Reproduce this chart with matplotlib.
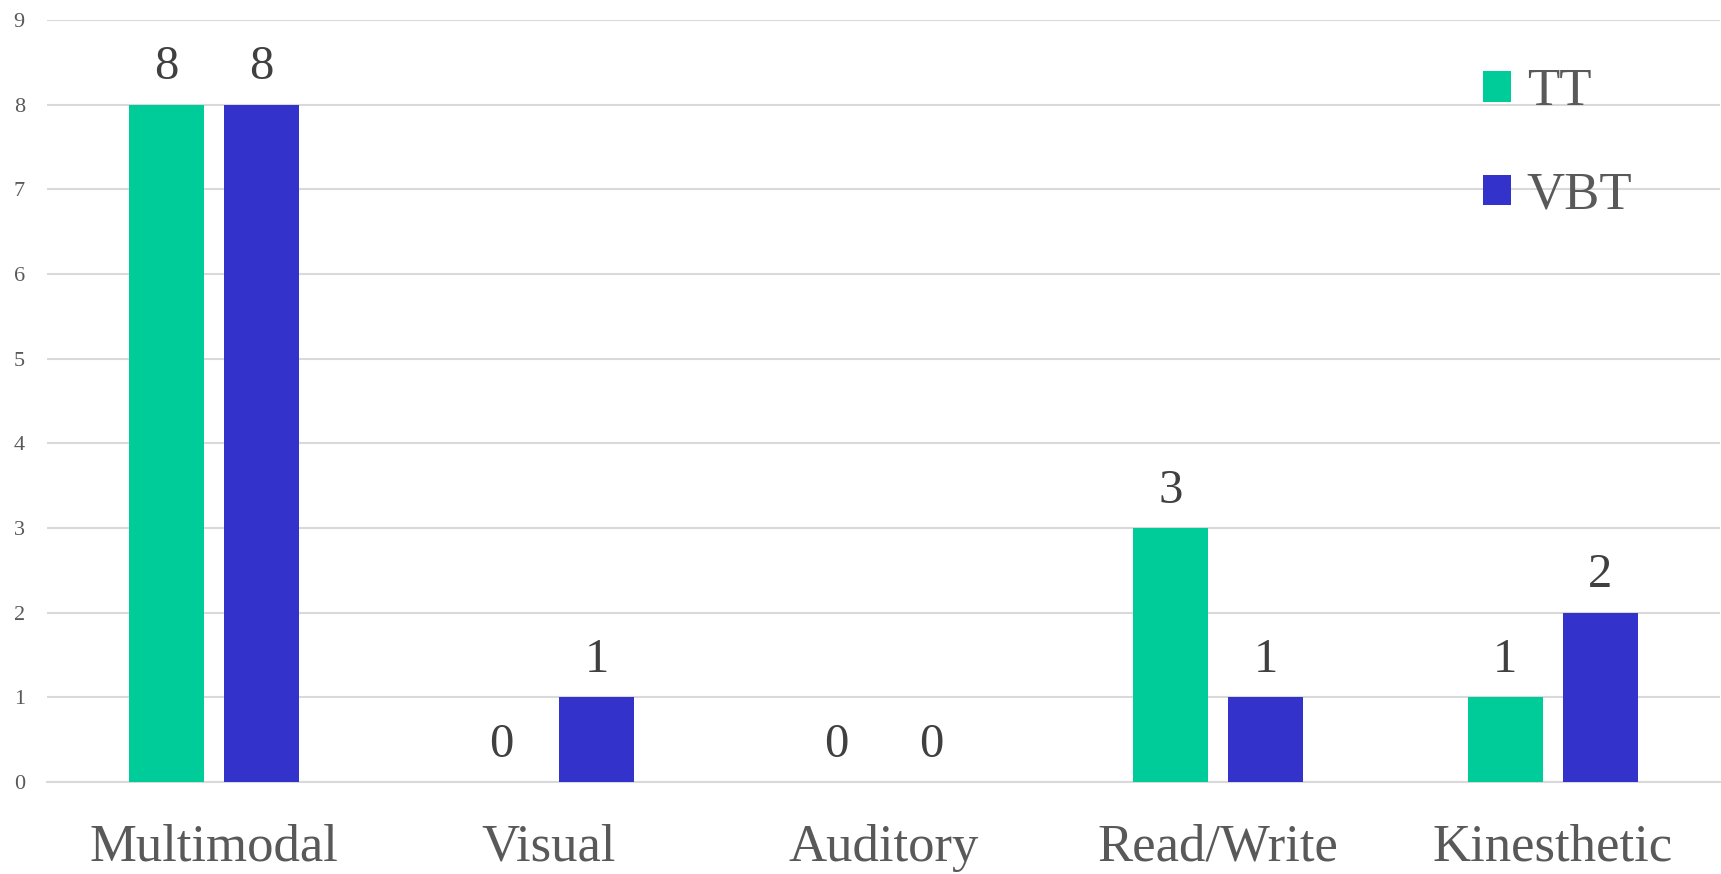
import numpy as np
import matplotlib.pyplot as plt

# learning style counts per group
categories = ["Multimodal", "Visual", "Auditory", "Read/Write", "Kinesthetic"]
tt_counts = [8, 0, 0, 3, 1]
vbt_counts = [8, 1, 0, 1, 2]

TT_COLOR = "#00CC99"
VBT_COLOR = "#3333CC"
TEXT_COLOR = "#595959"

plt.rcParams["font.family"] = ["Liberation Serif", "DejaVu Serif"]

fig = plt.figure(figsize=(17.21, 8.74), dpi=100)
ax = fig.add_axes([0.0273, 0.1053, 0.9721, 0.8717])

x = np.arange(len(categories))
width = 0.224
offset = 0.142

bars_tt = ax.bar(x - offset, tt_counts, width, color=TT_COLOR, label="TT", zorder=3)
bars_vbt = ax.bar(x + offset, vbt_counts, width, color=VBT_COLOR, label="VBT", zorder=3)

# value labels above each bar
for bars in (bars_tt, bars_vbt):
    for rect in bars:
        h = rect.get_height()
        ax.annotate(f"{h:g}", (rect.get_x() + rect.get_width() / 2, h),
                    xytext=(0, 11), textcoords="offset points",
                    ha="center", va="bottom", fontsize=35, color="#404040")

ax.set_xlim(-0.5, len(categories) - 0.5)
ax.set_ylim(0, 9)
ax.set_yticks(range(10))
ax.set_xticks(x)
ax.set_xticklabels(categories, fontsize=38, color=TEXT_COLOR)
ax.tick_params(axis="x", length=0, pad=30)
ax.tick_params(axis="y", length=0, pad=16, labelsize=16, labelcolor=TEXT_COLOR)

ax.grid(axis="y", color="#D9D9D9", linewidth=1.5, zorder=0)
for side in ("top", "right", "left"):
    ax.spines[side].set_visible(False)
ax.spines["bottom"].set_color("#D9D9D9")
ax.spines["bottom"].set_linewidth(1.5)

leg = ax.legend(loc="upper right", bbox_to_anchor=(0.976, 0.999), frameon=False,
                fontsize=38, handlelength=0.52, handleheight=0.52,
                handletextpad=0.3, labelspacing=1.05)
for t in leg.get_texts():
    t.set_color(TEXT_COLOR)

fig.savefig("out.png", dpi=100)
